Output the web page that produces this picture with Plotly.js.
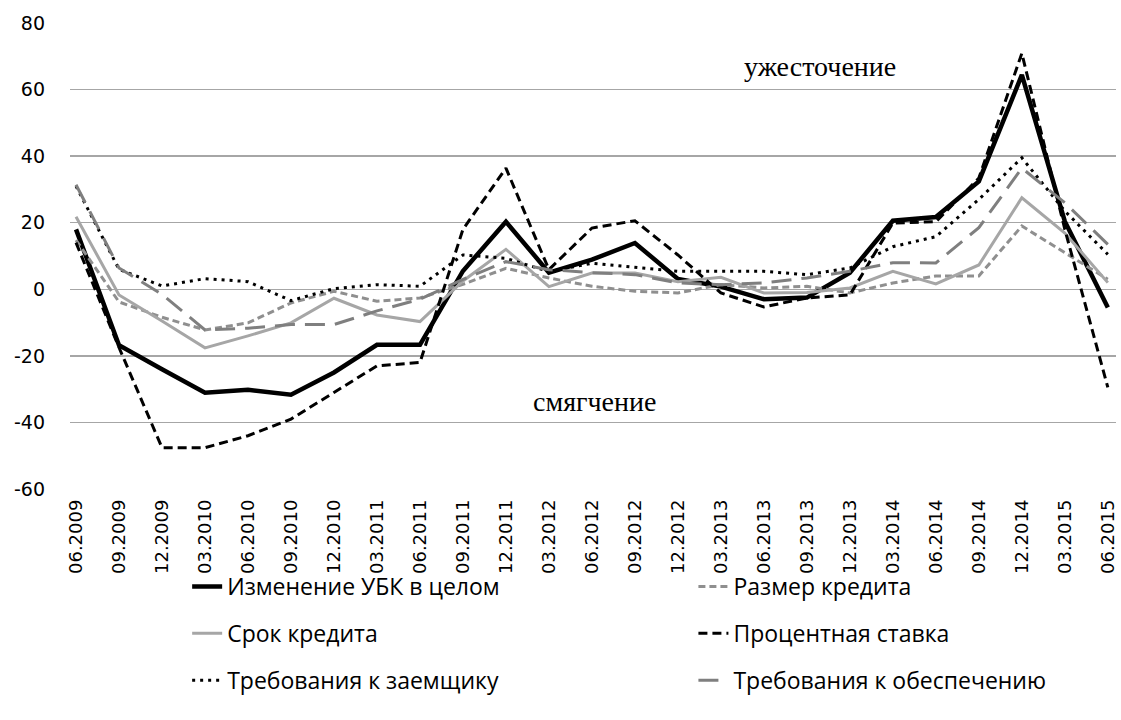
<!DOCTYPE html>
<html>
<head>
<meta charset="utf-8">
<script src="https://cdn.plot.ly/plotly-3.0.1.min.js"></script>
<style>
  html, body { margin: 0; padding: 0; background: #fff; }
  #chart { width: 1121px; height: 720px; }
</style>
</head>
<body>
<div id="chart"></div>
<script>
const categories = ['06.2009','09.2009','12.2009','03.2010','06.2010','09.2010','12.2010','03.2011','06.2011','09.2011','12.2011','03.2012','06.2012','09.2012','12.2012','03.2013','06.2013','09.2013','12.2013','03.2014','06.2014','09.2014','12.2014','03.2015','06.2015'];

const seriesNames = ['Изменение УБК в целом','Размер кредита','Срок кредита','Процентная ставка','Требования к заемщику','Требования к обеспечению'];

const totalChange = [18, -16.8, -24, -31.1, -30.2, -31.7, -25, -16.7, -16.7, 5.5, 20.3, 5, 8.9, 13.9, 3.1, 0.8, -3, -2.5, 5, 20.6, 21.7, 32.4, 64.4, 20.4, -5.5];
const loanSize    = [14.8, -3.8, -8.4, -12.2, -10.1, -4.1, -0.6, -3.6, -2.6, 1.5, 6.3, 3.4, 0.9, -0.6, -1.1, 1.4, 0.4, 0.9, -1.1, 1.9, 4, 4, 19, 11, 3];
const loanTerm    = [21.8, -1.7, -9.5, -17.6, -14, -10.1, -2.7, -7.7, -9.7, 2.5, 12, 0.8, 4.9, 4.9, 2.3, 3.6, -1.1, -1, 0.4, 5.4, 1.6, 7.3, 27.5, 16.9, 2];
const interestRate = [14, -17.5, -47.6, -47.6, -44, -39, -31, -23, -22, 18, 36.4, 5.9, 18.4, 20.6, 10.3, -1.1, -5.3, -2.6, -1.7, 19.9, 20.3, 33.4, 70.9, 18, -29.5];
const borrowerReq = [31, 6, 1, 3.2, 2.3, -3.4, 0.2, 1.4, 0.9, 10.3, 9.3, 5.3, 7.8, 6.6, 5.4, 5.4, 5.4, 4.4, 6.4, 12.8, 15.8, 27, 39.5, 23.5, 10.5];
const collateralReq = [31.4, 6.4, -1.5, -12.2, -11.7, -10.6, -10.6, -6.5, -3, 3, 8.3, 5.9, 5, 4.4, 1.9, 1.4, 1.9, 3.4, 5.4, 8, 7.9, 18.5, 36.4, 26, 13.5];

const yTickVals = [-60, -40, -20, 0, 20, 40, 60, 80];
const yTickText = ['-60', '-40', '-20', '0', '20', '40', '60', '80'];
const annTight = 'ужесточение';
const annEase = 'смягчение';

const seriesData = [totalChange, loanSize, loanTerm, interestRate, borrowerReq, collateralReq];
const styles = [
  {color: '#000000', width: 4.5, dash: 'solid', legend: 'legend'},
  {color: '#8f8f8f', width: 3, dash: '7px,4px', legend: 'legend2'},
  {color: '#a6a6a6', width: 3, dash: 'solid', legend: 'legend'},
  {color: '#000000', width: 3, dash: '9px,5px', legend: 'legend2'},
  {color: '#000000', width: 3, dash: '3px,5px', legend: 'legend'},
  {color: '#7f7f7f', width: 3, dash: '20px,10px', legend: 'legend2'}
];

const traces = seriesData.map((vals, i) => ({
  type: 'scatter',
  mode: 'lines',
  x: categories,
  y: vals,
  name: seriesNames[i],
  legend: styles[i].legend,
  legendgroup: 'g' + i,
  line: {color: styles[i].color, width: styles[i].width, dash: styles[i].dash},
  hoverinfo: 'x+y+name'
}));

const legendFont = {family: 'Open Sans, DejaVu Sans, sans-serif', size: 23, color: '#000'};

const layout = {
  width: 1121,
  height: 720,
  paper_bgcolor: '#ffffff',
  plot_bgcolor: '#ffffff',
  margin: {l: 70, r: 5, t: 23, b: 231},
  showlegend: true,
  xaxis: {
    type: 'category',
    range: [-0.14, 24.19],
    showgrid: false,
    zeroline: false,
    showline: false,
    ticks: '',
    tickangle: -90,
    ticklabelstandoff: 6,
    tickfont: {family: 'DejaVu Sans, Verdana, sans-serif', size: 18, color: '#000'}
  },
  yaxis: {
    range: [-60, 80],
    tickvals: yTickVals,
    ticktext: yTickText,
    showgrid: true,
    gridcolor: '#a6a6a6',
    gridwidth: 1.3,
    zeroline: true,
    zerolinecolor: '#a6a6a6',
    zerolinewidth: 1.3,
    showline: false,
    ticks: '',
    ticklabelstandoff: 24,
    tickfont: {family: 'DejaVu Sans, Verdana, sans-serif', size: 19, color: '#000'}
  },
  legend: {
    orientation: 'v',
    x: 0.112, xanchor: 'left',
    y: -0.163, yanchor: 'top',
    font: legendFont,
    tracegroupgap: 14,
    bgcolor: 'rgba(0,0,0,0)'
  },
  legend2: {
    orientation: 'v',
    x: 0.596, xanchor: 'left',
    y: -0.163, yanchor: 'top',
    font: legendFont,
    tracegroupgap: 14,
    bgcolor: 'rgba(0,0,0,0)'
  },
  annotations: [
    {text: annTight, xref: 'paper', yref: 'y', x: 0.717, y: 67, xanchor: 'center', yanchor: 'middle', showarrow: false,
     font: {family: 'Liberation Serif, serif', size: 28, color: '#000'}},
    {text: annEase, xref: 'paper', yref: 'y', x: 0.501, y: -33.6, xanchor: 'center', yanchor: 'middle', showarrow: false,
     font: {family: 'Liberation Serif, serif', size: 28, color: '#000'}}
  ]
};

Plotly.newPlot('chart', traces, layout, {displayModeBar: false, staticPlot: true});
</script>
</body>
</html>
